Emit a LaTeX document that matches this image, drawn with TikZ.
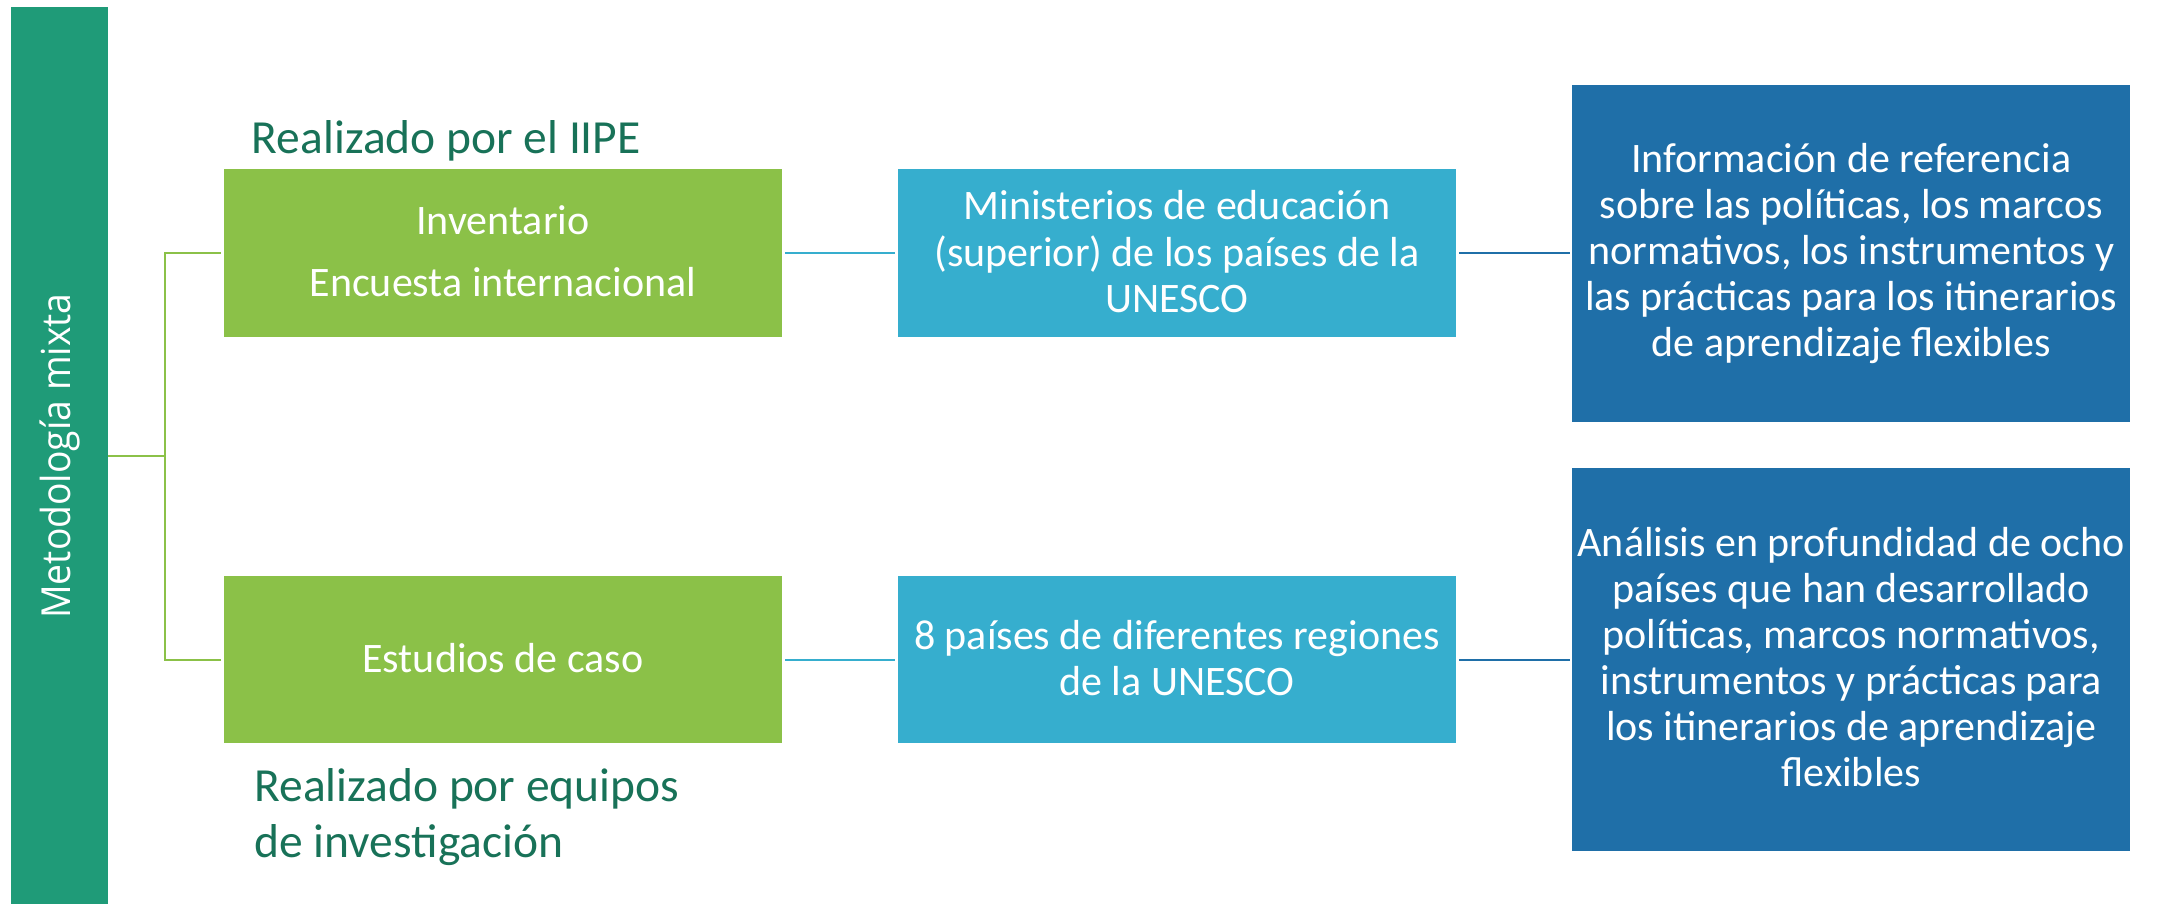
\documentclass[tikz,border=0pt]{standalone}
\usepackage{fontspec}
\setmainfont{Carlito}
\newfontfamily\vfont{Open Sans}
\definecolor{barcol}{RGB}{31,155,120}
\definecolor{greencol}{RGB}{139,193,72}
\definecolor{cyancol}{RGB}{54,174,206}
\definecolor{bluecol}{RGB}{31,111,168}
\definecolor{titlecol}{RGB}{24,114,88}
\begin{document}
\begin{tikzpicture}[x=1pt,y=-1pt,
  boxbase/.style={rectangle, draw=white, line width=2.5pt, inner sep=0pt, outer sep=0pt},
  gbox/.style={boxbase, fill=greencol, minimum width=561pt, minimum height=170pt},
  cbox/.style={boxbase, fill=cyancol, minimum width=561pt, minimum height=170pt},
  bbox/.style={boxbase, fill=bluecol, minimum width=560.5pt},
  boxtxt/.style={anchor=base, align=center, text=white, inner sep=0pt, font=\fontsize{42}{46.2}\selectfont},
  titletxt/.style={anchor=base west, align=left, text=titlecol, inner sep=0pt, font=\fontsize{47.5}{56.3}\selectfont},
  gline/.style={draw=greencol, line width=2pt},
  cline/.style={draw=cyancol, line width=2pt},
  bline/.style={draw=bluecol, line width=2pt}
]
\useasboundingbox (0,0) rectangle (2157,903);
\fill[white] (0,0) rectangle (2157,903);

% side bar
\node[rectangle, fill=barcol, inner sep=0pt, outer sep=0pt, minimum width=97pt, minimum height=898pt, text=white]
  (bar) at (59.5,456) {\rotatebox{90}{\vfont\fontsize{40}{48}\selectfont\scalebox{0.932}[1]{Metodología mixta}}};

% junction of the bracket
\coordinate (jn) at (165,456);

% boxes
\node[gbox] (g1) at (502.9,253) {};
\node[gbox] (g2) at (502.9,659.5) {};
\node[cbox] (c1) at (1176.9,253) {};
\node[cbox] (c2) at (1176.9,659.5) {};
\node[bbox, minimum height=339.5pt] (b1) at (1851.3,253) {};
\node[bbox, minimum height=386pt] (b2) at (1851.3,659.5) {};

% connectors
\draw[gline] (bar.east) -- (jn);
\draw[gline] (g1.west) -| (jn) |- (g2.west);
\draw[cline] (g1.east) -- (c1.west);
\draw[cline] (g2.east) -- (c2.west);
\draw[bline] (c1.east) -- (b1.west);
\draw[bline] (c2.east) -- (b2.west);

% redraw box borders over connector ends
\foreach \n in {g1,g2,c1,c2,b1,b2}{
  \draw[white, line width=2.5pt] (\n.south west) rectangle (\n.north east);
}

% box texts (anchor = baseline of the last line)
\node[boxtxt, font=\fontsize{42}{62.4}\selectfont] (tg1) at (502.9,296.7) {Inventario\\Encuesta internacional};
\node[boxtxt] (tg2) at (502.9,672.8) {Estudios de caso};
\node[boxtxt] (tc1) at (1176.9,312.2) {Ministerios de educación\\(superior) de los países de la\\UNESCO};
\node[boxtxt] (tc2) at (1176.9,695.9) {8 países de diferentes regiones\\de la UNESCO};
\node[boxtxt, font=\fontsize{42}{46}\selectfont] (tb1) at (1851.3,356.8) {Información de referencia\\sobre las políticas, los marcos\\normativos, los instrumentos y\\las prácticas para los itinerarios\\de aprendizaje flexibles};
\node[boxtxt, font=\fontsize{42}{46}\selectfont] (tb2) at (1851.3,786.5) {Análisis en profundidad de ocho\\países que han desarrollado\\políticas, marcos normativos,\\instrumentos y prácticas para\\los itinerarios de aprendizaje\\flexibles};

% titles
\node[titletxt] (ti1) at (251.7,153.3) {Realizado por el IIPE};
\node[titletxt] (ti2) at (254.3,857.3) {Realizado por equipos\\de investigación};
\end{tikzpicture}
\end{document}
